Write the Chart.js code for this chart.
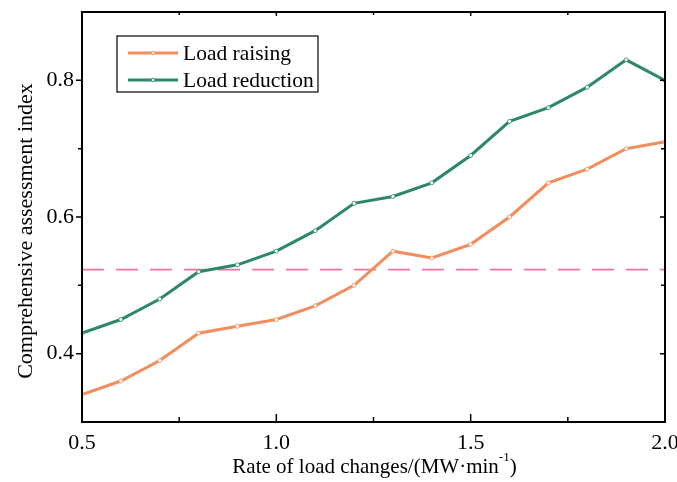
<!DOCTYPE html>
<html>
<head>
<meta charset="utf-8">
<script src="https://cdn.jsdelivr.net/npm/chart.js@4/dist/chart.umd.min.js"></script>
<style>
  html, body { margin: 0; padding: 0; background: #fff; }
  #wrap { width: 677px; height: 482px; }
</style>
</head>
<body>
<div id="wrap"><canvas id="c" width="677" height="482"></canvas></div>
<script>
// Rate of load change (MW/min)
const rates = [0.5, 0.6, 0.7, 0.8, 0.9, 1.0, 1.1, 1.2, 1.3, 1.4, 1.5, 1.6, 1.7, 1.8, 1.9, 2.0];
// Comprehensive assessment index for each operating mode
const loadRaising   = [0.34, 0.36, 0.39, 0.43, 0.44, 0.45, 0.47, 0.50, 0.55, 0.54, 0.56, 0.60, 0.65, 0.67, 0.70, 0.71];
const loadReduction = [0.43, 0.45, 0.48, 0.52, 0.53, 0.55, 0.58, 0.62, 0.63, 0.65, 0.69, 0.74, 0.76, 0.79, 0.83, 0.80];
// Reference threshold
const thresholdValue = 0.523;
// Tick positions
const xMajorTicks = [0.5, 1.0, 1.5, 2.0];
const xMinorTicks = [0.75, 1.25, 1.75];
const yMajorTicks = [0.4, 0.6, 0.8];
const yMinorTicks = [0.5, 0.7];

const FONT = '"Liberation Serif", "Times New Roman", serif';
const ORANGE = '#F28D5E';
const GREEN = '#2B8868';
const PINK = '#F57399';

function toPoints(ys) { return rates.map((x, i) => ({ x: x, y: ys[i] })); }

function noScalePadding(s) {
  s.paddingLeft = 0; s.paddingRight = 0; s.paddingTop = 0; s.paddingBottom = 0;
}

// Frame, ticks, threshold line, axis titles and legend box
const decorations = {
  id: 'decorations',
  beforeDatasetsDraw(chart) {
    const ctx = chart.ctx, a = chart.chartArea;
    const ys = chart.scales.y;
    const yy = ys.getPixelForValue(thresholdValue);
    ctx.save();
    ctx.strokeStyle = PINK;
    ctx.lineWidth = 1.6;
    ctx.setLineDash([22, 12]);
    ctx.beginPath();
    ctx.moveTo(a.left, yy);
    ctx.lineTo(a.right, yy);
    ctx.stroke();
    ctx.restore();
  },
  afterDatasetsDraw(chart) {
    const ctx = chart.ctx, a = chart.chartArea;
    const xs = chart.scales.x, ys = chart.scales.y;
    ctx.save();
    ctx.strokeStyle = '#000';
    ctx.lineWidth = 2;
    ctx.strokeRect(a.left, a.top, a.right - a.left, a.bottom - a.top);
    ctx.lineWidth = 1.5;
    ctx.beginPath();
    xMajorTicks.forEach(v => {
      const p = xs.getPixelForValue(v);
      ctx.moveTo(p, a.bottom); ctx.lineTo(p, a.bottom - 8);
      ctx.moveTo(p, a.top); ctx.lineTo(p, a.top + 4);
    });
    xMinorTicks.forEach(v => {
      const p = xs.getPixelForValue(v);
      ctx.moveTo(p, a.bottom); ctx.lineTo(p, a.bottom - 5);
      ctx.moveTo(p, a.top); ctx.lineTo(p, a.top + 3);
    });
    yMajorTicks.forEach(v => {
      const p = ys.getPixelForValue(v);
      ctx.moveTo(a.left, p); ctx.lineTo(a.left - 6, p);
      ctx.moveTo(a.right, p); ctx.lineTo(a.right - 5, p);
    });
    yMinorTicks.forEach(v => {
      const p = ys.getPixelForValue(v);
      ctx.moveTo(a.left, p); ctx.lineTo(a.left - 4, p);
      ctx.moveTo(a.right, p); ctx.lineTo(a.right - 4, p);
    });
    ctx.stroke();

    // Axis titles
    ctx.fillStyle = '#000';
    ctx.textBaseline = 'middle';
    const main = 'Rate of load changes/(MW\u00B7min';
    const sup = '-1';
    const close = ')';
    ctx.font = '21px ' + FONT;
    const wMain = ctx.measureText(main).width;
    ctx.font = '13px ' + FONT;
    const wSup = ctx.measureText(sup).width;
    ctx.font = '21px ' + FONT;
    const wClose = ctx.measureText(close).width;
    const total = wMain + wSup + wClose;
    const cx = (a.left + a.right) / 2 + 1;
    const tx = cx - total / 2;
    const ty = 467;
    ctx.textAlign = 'left';
    ctx.fillText(main, tx, ty);
    ctx.font = '13px ' + FONT;
    ctx.fillText(sup, tx + wMain, ty - 9);
    ctx.font = '21px ' + FONT;
    ctx.fillText(close, tx + wMain + wSup, ty);

    ctx.font = '22px ' + FONT;
    ctx.save();
    ctx.translate(26, (a.top + a.bottom) / 2 + 14);
    ctx.rotate(-Math.PI / 2);
    ctx.textAlign = 'center';
    ctx.fillText('Comprehensive assessment index', 0, 0);
    ctx.restore();

    // Legend
    const bx = a.left + 35, by = a.top + 24, bw = 201, bh = 56;
    ctx.lineWidth = 1.2;
    ctx.strokeStyle = '#000';
    ctx.strokeRect(bx, by, bw, bh);
    chart.data.datasets.forEach((ds, i) => {
      const rowY = by + 17 + i * 27;
      ctx.strokeStyle = ds.borderColor;
      ctx.lineWidth = 3;
      ctx.beginPath();
      ctx.moveTo(bx + 11, rowY);
      ctx.lineTo(bx + 61, rowY);
      ctx.stroke();
      ctx.beginPath();
      ctx.arc(bx + 36, rowY, 1.8, 0, Math.PI * 2);
      ctx.fillStyle = '#fff';
      ctx.fill();
      ctx.lineWidth = 0.8;
      ctx.stroke();
      ctx.fillStyle = '#000';
      ctx.font = '21.5px ' + FONT;
      ctx.textAlign = 'left';
      ctx.fillText(ds.label, bx + 66, rowY + 1);
    });
    ctx.restore();
  }
};

new Chart(document.getElementById('c'), {
  type: 'line',
  data: {
    datasets: [
      {
        label: 'Load raising',
        data: toPoints(loadRaising),
        borderColor: ORANGE,
        backgroundColor: '#fff',
        borderWidth: 3,
        pointRadius: 2,
        pointBorderWidth: 0.8,
        pointBackgroundColor: '#fff',
        pointBorderColor: ORANGE,
        tension: 0
      },
      {
        label: 'Load reduction',
        data: toPoints(loadReduction),
        borderColor: GREEN,
        backgroundColor: '#fff',
        borderWidth: 3,
        pointRadius: 2,
        pointBorderWidth: 0.8,
        pointBackgroundColor: '#fff',
        pointBorderColor: GREEN,
        tension: 0
      }
    ]
  },
  options: {
    responsive: false,
    animation: false,
    events: [],
    layout: { padding: { left: 0, right: 12, top: 12, bottom: 0 } },
    plugins: { legend: { display: false }, tooltip: { enabled: false } },
    scales: {
      x: {
        type: 'linear',
        min: 0.5, max: 2.0,
        grid: { display: false, drawTicks: false },
        border: { display: false },
        afterBuildTicks: s => { s.ticks = xMajorTicks.map(v => ({ value: v })); },
        afterFit: s => { s.height = 60; noScalePadding(s); },
        ticks: {
          padding: 8,
          color: '#000',
          maxRotation: 0,
          autoSkip: false,
          font: { family: FONT, size: 22 },
          callback: v => Number(v).toFixed(1)
        }
      },
      y: {
        type: 'linear',
        min: 0.3, max: 0.9,
        grid: { display: false, drawTicks: false },
        border: { display: false },
        afterBuildTicks: s => { s.ticks = yMajorTicks.map(v => ({ value: v })); },
        afterFit: s => { s.width = 82; noScalePadding(s); },
        ticks: {
          padding: 8,
          color: '#000',
          font: { family: FONT, size: 22 },
          callback: v => Number(v).toFixed(1)
        }
      }
    }
  },
  plugins: [decorations]
});
</script>
</body>
</html>
